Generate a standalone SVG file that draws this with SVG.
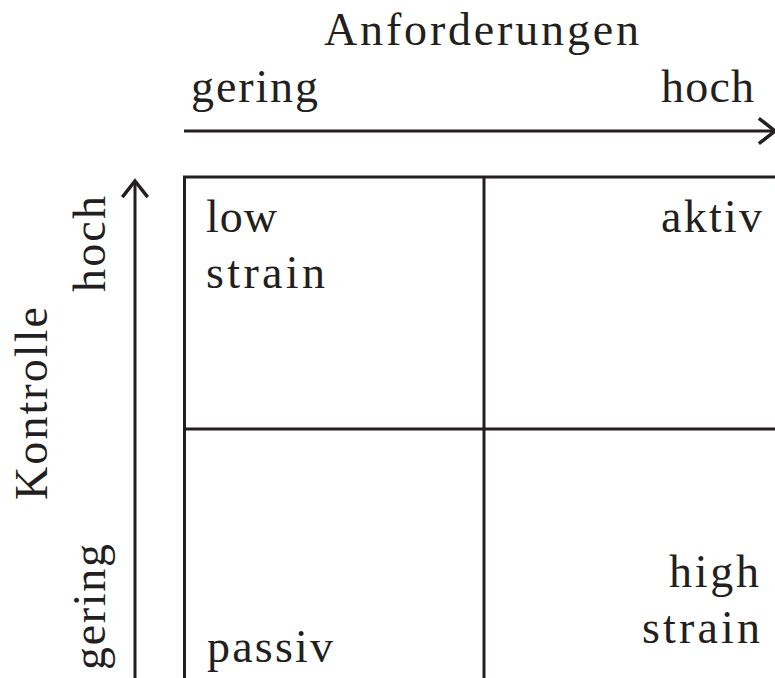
<svg xmlns="http://www.w3.org/2000/svg" width="775" height="678" viewBox="0 0 775 678">
  <style>
    .t { font-family: "Liberation Serif", "Times New Roman", serif; font-size: 46px; fill: #231f20; }
    .ln { stroke: #231f20; stroke-width: 3; fill: none; }
  </style>
  <defs>
    <marker id="arr" markerUnits="userSpaceOnUse" markerWidth="30" markerHeight="30" viewBox="-16 -13 18 26" refX="0" refY="0" orient="auto" overflow="visible">
      <path d="M-14,-11 L0,0 L-14,11" fill="none" stroke="#231f20" stroke-width="3"/>
    </marker>
  </defs>
  <rect width="775" height="678" fill="#ffffff"/>

  <g id="connectors">
    <line id="axis-x" class="ln" x1="184" y1="131" x2="775" y2="131" marker-end="url(#arr)"/>
    <line id="axis-y" class="ln" x1="135" y1="678" x2="135" y2="181" marker-end="url(#arr)"/>
  </g>

  <g id="grid">
    <line class="ln" x1="183" y1="177" x2="775" y2="177"/>
    <line class="ln" x1="184.5" y1="177" x2="184.5" y2="678"/>
    <line class="ln" x1="484" y1="177" x2="484" y2="678"/>
    <line class="ln" x1="184" y1="429" x2="775" y2="429"/>
  </g>

  <g id="axis-x-labels">
    <text class="t" x="324" y="45" textLength="315" lengthAdjust="spacing">Anforderungen</text>
    <text class="t" x="191" y="102" textLength="127" lengthAdjust="spacing">gering</text>
    <text class="t" x="661" y="102" textLength="93" lengthAdjust="spacing">hoch</text>
  </g>

  <g id="axis-y-labels">
    <text class="t" transform="translate(47,500) rotate(-90)" x="0" y="0" textLength="193" lengthAdjust="spacing">Kontrolle</text>
    <text class="t" transform="translate(105,292) rotate(-90)" x="0" y="0" textLength="96" lengthAdjust="spacing">hoch</text>
    <text class="t" transform="translate(105,670) rotate(-90)" x="0" y="0" textLength="126" lengthAdjust="spacing">gering</text>
  </g>

  <g id="low-strain">
    <text class="t" x="206" y="232" textLength="71" lengthAdjust="spacing">low</text>
    <text class="t" x="206" y="288" textLength="119" lengthAdjust="spacing">strain</text>
  </g>

  <g id="aktiv">
    <text class="t" x="661" y="232" textLength="101" lengthAdjust="spacing">aktiv</text>
  </g>

  <g id="passiv">
    <text class="t" x="207" y="662" textLength="126" lengthAdjust="spacing">passiv</text>
  </g>

  <g id="high-strain">
    <text class="t" x="669" y="587" textLength="90" lengthAdjust="spacing">high</text>
    <text class="t" x="642" y="643" textLength="118" lengthAdjust="spacing">strain</text>
  </g>
</svg>
